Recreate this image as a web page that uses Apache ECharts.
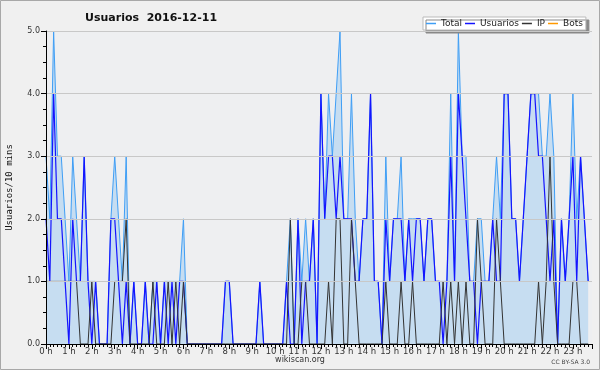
<!DOCTYPE html>
<html><head><meta charset="utf-8">
<script src="https://cdn.jsdelivr.net/npm/echarts@6/dist/echarts.min.js"></script>
<style>html,body{margin:0;padding:0;background:#f0f0f0}#c{width:600px;height:370px}</style>
</head><body><div id="c"></div>
<script>
const hourLabels = ['0 h','1 h','2 h','3 h','4 h','5 h','6 h','7 h','8 h','9 h','10 h','11 h','12 h','13 h','14 h','15 h','16 h','17 h','18 h','19 h','20 h','21 h','22 h','23 h'];
const yTicks = ['0.0','1.0','2.0','3.0','4.0','5.0'];
const total = [3,2,5,3,3,2,1,3,2,1,3,1,1,1,0,0,0,2,3,2,1,3,0,1,0,0,1,0,1,1,0,1,1,1,1,1,2,0,0,0,0,0,0,0,0,0,0,1,1,0,0,0,0,0,0,0,1,0,0,0,0,0,0,1,2,0,2,1,2,1,2,0,4,2,4,3,4,5,2,2,4,2,1,2,2,4,1,1,0,3,1,2,2,3,1,2,2,2,2,1,2,2,1,1,1,1,4,1,5,3,3,1,1,2,2,1,1,2,3,2,4,4,2,2,1,2,3,4,4,4,3,3,4,3,0,2,1,2,4,2,3,2,1];
const usuarios = [2,1,4,2,2,1,0,2,1,1,3,1,0,1,0,0,0,2,2,1,0,1,0,1,0,0,1,0,0,1,0,1,0,1,0,1,1,0,0,0,0,0,0,0,0,0,0,1,1,0,0,0,0,0,0,0,1,0,0,0,0,0,0,1,0,0,2,0,1,1,2,0,4,2,3,3,2,3,2,2,2,1,1,2,2,4,1,1,0,2,1,2,2,2,1,2,1,2,2,1,2,2,1,1,0,1,3,1,4,3,2,1,1,0,1,1,1,2,1,1,4,4,2,2,1,2,3,4,4,3,3,2,1,2,0,2,1,2,3,1,3,2,1];
const ip = [1,1,1,1,1,1,1,1,1,0,0,0,1,0,0,0,0,0,1,1,1,2,0,0,0,0,0,0,1,0,0,0,1,0,1,0,1,0,0,0,0,0,0,0,0,0,0,0,0,0,0,0,0,0,0,0,0,0,0,0,0,0,0,0,2,0,0,1,1,0,0,0,0,0,1,0,2,2,0,0,2,1,0,0,0,0,0,0,0,1,0,0,0,1,0,0,1,0,0,0,0,0,0,0,1,0,1,0,1,0,1,0,0,2,1,0,0,0,2,1,0,0,0,0,0,0,0,0,0,1,0,1,3,1,0,0,0,0,1,1,0,0,0];
const bots = [0,0,0,0,0,0,0,0,0,0,0,0,0,0,0,0,0,0,0,0,0,0,0,0,0,0,0,0,0,0,0,0,0,0,0,0,0,0,0,0,0,0,0,0,0,0,0,0,0,0,0,0,0,0,0,0,0,0,0,0,0,0,0,0,0,0,0,0,0,0,0,0,0,0,0,0,0,0,0,0,0,0,0,0,0,0,0,0,0,0,0,0,0,0,0,0,0,0,0,0,0,0,0,0,0,0,0,0,0,0,0,0,0,0,0,0,0,0,0,0,0,0,0,0,0,0,0,0,0,0,0,0,0,0,0,0,0,0,0,0,0,0,0];

const pairs = arr => arr.map((v, i) => [i, v]);
const chart = echarts.init(document.getElementById('c'), null, {renderer: 'canvas'});
const FONT = 'DejaVu Sans';
chart.setOption({
  backgroundColor: '#f0f0f0',
  animation: false,
  title: {
    text: 'Usuarios  2016-12-11', left: 80, top: 8,
    textStyle: {fontFamily: FONT, fontSize: 11, fontWeight: 'bold', color: '#111'}
  },
  legend: {
    left: 423, top: 17, padding: [2, 3, 2, 3], itemGap: 3, itemWidth: 10, itemHeight: 1.5,
    icon: 'rect',
    backgroundColor: '#ffffff', borderColor: '#bbbbbb', borderWidth: 1,
    shadowColor: '#888888', shadowOffsetX: 3, shadowOffsetY: 3, shadowBlur: 0,
    textStyle: {fontFamily: FONT, fontSize: 9, color: '#222'},
    data: ['Total', 'Usuarios', 'IP', 'Bots']
  },
  grid: {left: 46, right: 8, top: 31, bottom: 26, show: true, backgroundColor: '#eeeff1', borderWidth: 0, outerBoundsMode: 'none', containLabel: false},
  xAxis: {
    type: 'value', min: 0, max: 143, interval: 6, z: 10,
    axisLine: {lineStyle: {color: '#000', width: 1}},
    axisTick: {show: true, length: 5, lineStyle: {color: '#000'}},
    minorTick: {show: true, splitNumber: 6, length: 3, lineStyle: {color: '#000'}},
    splitLine: {show: false},
    axisLabel: {
      fontFamily: FONT, fontSize: 8.5, color: '#333', margin: 3,
      formatter: v => (v % 6 === 0 && v / 6 < hourLabels.length) ? hourLabels[v / 6] : ''
    }
  },
  yAxis: {
    type: 'value', min: 0, max: 5, interval: 1, z: 10,
    name: 'Usuarios/10 mins', nameLocation: 'middle', nameGap: 32, nameRotate: 90,
    nameTextStyle: {fontFamily: 'DejaVu Sans Mono', fontSize: 9, color: '#111'},
    axisLine: {show: true, lineStyle: {color: '#000', width: 1}},
    axisTick: {show: true, length: 5, lineStyle: {color: '#000'}},
    minorTick: {show: true, splitNumber: 4, length: 3, lineStyle: {color: '#000'}},
    splitLine: {show: true, lineStyle: {color: '#c8c8c8', width: 1}},
    axisLabel: {fontFamily: FONT, fontSize: 8, color: '#333', margin: 6,
      formatter: v => yTicks[Math.round(v)]}
  },
  series: [
    {name: 'Total', type: 'line', data: pairs(total), symbol: 'none', z: 2,
     lineStyle: {color: '#3f9ef5', width: 1}, itemStyle: {color: '#3f9ef5'},
     areaStyle: {color: '#c6ddf1', opacity: 1}},
    {name: 'Usuarios', type: 'line', data: pairs(usuarios), symbol: 'none', z: 3,
     lineStyle: {color: '#1414ff', width: 1.2}, itemStyle: {color: '#1414ff'}},
    {name: 'IP', type: 'line', data: pairs(ip), symbol: 'none', z: 4,
     lineStyle: {color: '#333333', width: 1}, itemStyle: {color: '#333333'}},
    {name: 'Bots', type: 'line', data: pairs(bots), symbol: 'none', z: 1,
     lineStyle: {color: '#ff9900', width: 1}, itemStyle: {color: '#ff9900'}}
  ],
  graphic: [
    {type: 'rect', shape: {x: 0.5, y: 0.5, width: 599, height: 369}, style: {fill: 'none', stroke: '#a8a8a8', lineWidth: 1}, silent: true},
    {type: 'text', left: 'center', top: 356, style: {text: 'wikiscan.org', fontFamily: FONT, fontSize: 8, fill: '#333'}},
    {type: 'text', right: 10, top: 359, style: {text: 'CC BY-SA 3.0', fontFamily: FONT, fontSize: 6, fill: '#444'}}
  ]
});
</script></body></html>
